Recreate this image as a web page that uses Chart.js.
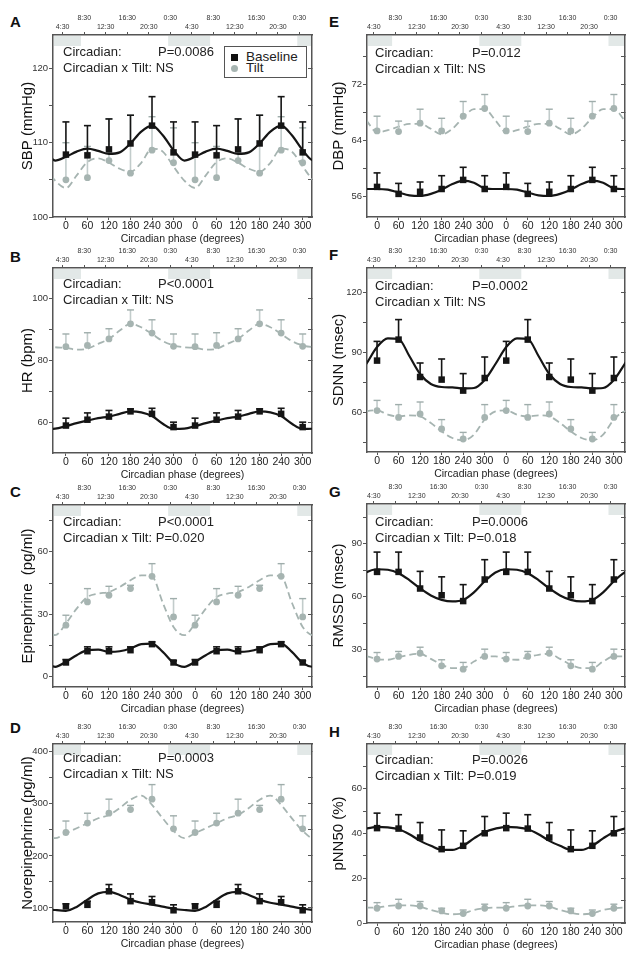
<!DOCTYPE html>
<html>
<head>
<meta charset="utf-8">
<script src="https://cdn.jsdelivr.net/npm/chart.js@4.4.0/dist/chart.umd.min.js"></script>
<style>
  body { margin: 0; background: #fff; width: 644px; height: 959px; position: relative; overflow: hidden;
         font-family: 'Liberation Sans', Arial, sans-serif; color: #222; }
  canvas { position: absolute; }
  .letter { position: absolute; font-weight: bold; font-size: 15px; line-height: 15px; color: #111; }
  .legend { position: absolute; left: 224px; top: 46px; width: 81px; height: 30px; border: 1px solid #555;
            background: #fff; font-size: 13.5px; z-index: 5; }
  .legend span { position: absolute; line-height: 12px; }
  .mk { width: 7px; height: 7px; }
</style>
</head>
<body>
<div class="letter" style="left:10px;top:14px">A</div>
<div class="letter" style="left:10px;top:249px">B</div>
<div class="letter" style="left:10px;top:484px">C</div>
<div class="letter" style="left:10px;top:720px">D</div>
<div class="letter" style="left:329px;top:14px">E</div>
<div class="letter" style="left:329px;top:247px">F</div>
<div class="letter" style="left:329px;top:484px">G</div>
<div class="letter" style="left:329px;top:724px">H</div>
<div class="legend">
  <span class="mk" style="left:6px;top:7px;background:#111"></span>
  <span style="left:21px;top:4px">Baseline</span>
  <span class="mk" style="left:6px;top:18px;background:#a6b4b1;border-radius:50%"></span>
  <span style="left:21px;top:15px">Tilt</span>
</div>
<script>
// x positions: circadian phase, double-plotted (two cycles)
const phases = [0, 60, 120, 180, 240, 300, 360, 420, 480, 540, 600, 660];
const phaseLabels = ['0', '60', '120', '180', '240', '300', '0', '60', '120', '180', '240', '300'];
// clock time axis on top
const clockPhases = [-9, 51, 111, 171, 231, 291, 351, 411, 471, 531, 591, 651];
const clockLabels = ['4:30', '8:30', '12:30', '16:30', '20:30', '0:30', '4:30', '8:30', '12:30', '16:30', '20:30', '0:30'];
// shaded sleep bands (phase degrees)
const sleepBands = [[-75, 42], [285, 402], [645, 762]];
// x positions of the fitted curves
const fitPhases = [-60, -30, 0, 30, 60, 90, 120, 150, 180, 210, 240, 270, 300, 330,
                   360, 390, 420, 450, 480, 510, 540, 570, 600, 630, 660, 690, 720];

// A: SBP
const sbpBase = [108.4, 108.3, 109.1, 109.9, 112.3, 108.7, 108.4, 108.3, 109.1, 109.9, 112.3, 108.7];
const sbpBaseErr = [112.8, 112.3, 113.2, 113.7, 116.2, 112.8, 112.8, 112.3, 113.2, 113.7, 116.2, 112.8];
const sbpTilt = [105.0, 105.3, 107.6, 105.9, 109.0, 107.3, 105.0, 105.3, 107.6, 105.9, 109.0, 107.3];
const sbpTiltErr = [110.0, 109.5, 113.2, 113.7, 113.5, 112.0, 110.0, 109.5, 113.2, 113.7, 113.5, 112.0];
const sbpBaseFit = [109.0, 107.6, 108.1, 108.8, 109.2, 108.9, 108.5, 108.7, 109.9, 111.5, 112.3, 111.0, 109.0, 107.6,
                    108.1, 108.8, 109.2, 108.9, 108.5, 108.7, 109.9, 111.5, 112.3, 111.0, 109.0, 107.6, 108.1];
const sbpTiltFit = [106.8, 104.9, 103.9, 105.6, 107.4, 107.9, 107.3, 106.5, 106.1, 107.3, 109.2, 108.8, 106.8, 104.9,
                    103.9, 105.6, 107.4, 107.9, 107.3, 106.5, 106.1, 107.3, 109.2, 108.8, 106.8, 104.9, 103.9];

// B: HR
const hrBase = [58.9, 60.8, 61.8, 63.5, 62.7, 58.4, 58.9, 60.8, 61.8, 63.5, 62.7, 58.4];
const hrBaseErr = [61.3, 63.0, 63.8, 64.3, 64.5, 60.0, 61.3, 63.0, 63.8, 64.3, 64.5, 60.0];
const hrTilt = [84.5, 84.9, 87.0, 91.9, 88.9, 84.6, 84.5, 84.9, 87.0, 91.9, 88.9, 84.6];
const hrTiltErr = [88.6, 89.0, 90.3, 96.4, 93.2, 88.6, 88.6, 89.0, 90.3, 96.4, 93.2, 88.6];
const hrBaseFit = [57.8, 57.9, 58.7, 59.7, 60.5, 61.3, 61.8, 62.7, 63.5, 63.2, 62.0, 59.5, 57.8, 57.9,
                   58.7, 59.7, 60.5, 61.3, 61.8, 62.7, 63.5, 63.2, 62.0, 59.5, 57.8, 57.9, 58.7];
const hrTiltFit = [84.9, 84.3, 84.1, 83.5, 83.8, 85.4, 87.0, 89.7, 91.9, 90.8, 88.6, 86.3, 84.9, 84.3,
                   84.1, 83.5, 83.8, 85.4, 87.0, 89.7, 91.9, 90.8, 88.6, 86.3, 84.9, 84.3, 84.1];

// C: Epinephrine
const epiBase = [6.8, 12.2, 12.2, 12.7, 15.6, 6.8, 6.8, 12.2, 12.2, 12.7, 15.6, 6.8];
const epiBaseErr = [8.2, 14.3, 14.3, 14.3, 16.7, 7.6, 8.2, 14.3, 14.3, 14.3, 16.7, 7.6];
const epiTilt = [24.7, 35.9, 39.1, 42.3, 48.2, 28.7, 24.7, 35.9, 39.1, 42.3, 48.2, 28.7];
const epiTiltErr = [29.5, 42.3, 43.4, 43.9, 54.3, 37.5, 29.5, 42.3, 43.4, 43.9, 54.3, 37.5];
const epiBaseFit = [6.6, 4.7, 7.1, 10.3, 12.7, 13.0, 11.9, 12.2, 13.5, 15.6, 15.9, 11.9, 6.6, 4.7,
                    7.1, 10.3, 12.7, 13.0, 11.9, 12.2, 13.5, 15.6, 15.9, 11.9, 6.6, 4.7, 7.1];
const epiTiltFit = [23.9, 19.9, 25.5, 32.7, 38.3, 39.9, 40.7, 43.1, 46.3, 48.7, 48.2, 35.5, 23.9, 19.9,
                    25.5, 32.7, 38.3, 39.9, 40.7, 43.1, 46.3, 48.7, 48.2, 35.5, 23.9, 19.9, 25.5];

// D: Norepinephrine
const neBase = [103, 106, 132, 113, 111, 95.5, 103, 106, 132, 113, 111, 95.5];
const neBaseErr = [108, 113, 145, 127, 122, 106, 108, 113, 145, 127, 122, 106];
const neTilt = [245, 263, 282, 289, 309, 252, 245, 263, 282, 289, 309, 252];
const neTiltErr = [267, 282, 309, 297, 337, 277, 267, 282, 309, 297, 337, 277];
const neBaseFit = [98.5, 96, 94.5, 102, 116, 128, 131, 125, 116, 110, 106.5, 102.5, 98.5, 96,
                   94.5, 102, 116, 128, 131, 125, 116, 110, 106.5, 102.5, 98.5, 96, 94.5];
const neTiltFit = [248, 234, 243.6, 253.2, 262.7, 272.3, 278.7, 292, 308, 316, 298, 272, 248, 234,
                   243.6, 253.2, 262.7, 272.3, 278.7, 292, 308, 316, 298, 272, 248, 234, 243.6];

// E: DBP
const dbpBase = [57.3, 56.3, 56.6, 57.0, 58.3, 57.0, 57.3, 56.3, 56.6, 57.0, 58.3, 57.0];
const dbpBaseErr = [59.3, 57.8, 58.0, 58.9, 60.1, 58.9, 59.3, 57.8, 58.0, 58.9, 60.1, 58.9];
const dbpTilt = [65.3, 65.2, 66.4, 65.3, 67.4, 68.5, 65.3, 65.2, 66.4, 65.3, 67.4, 68.5];
const dbpTiltErr = [67.4, 66.7, 68.4, 67.1, 69.5, 70.5, 67.4, 66.7, 68.4, 67.1, 69.5, 70.5];
const dbpBaseFit = [57.1, 57.0, 57.0, 56.9, 56.5, 56.1, 56.0, 56.3, 56.9, 57.7, 58.2, 57.9, 57.1, 57.0,
                    57.0, 56.9, 56.5, 56.1, 56.0, 56.3, 56.9, 57.7, 58.2, 57.9, 57.1, 57.0, 57.0];
const dbpTiltFit = [68.4, 66.8, 65.1, 65.4, 65.9, 66.3, 66.3, 65.6, 64.8, 65.6, 67.2, 68.4, 68.4, 66.8,
                    65.1, 65.4, 65.9, 66.3, 66.3, 65.6, 64.8, 65.6, 67.2, 68.4, 68.4, 66.8, 65.1];

// F: SDNN
const sdnnBase = [85.7, 96.2, 77.5, 76.2, 70.7, 77.0, 85.7, 96.2, 77.5, 76.2, 70.7, 77.0];
const sdnnBaseErr = [95.3, 106.2, 84.5, 86.5, 79.2, 87.5, 95.3, 106.2, 84.5, 86.5, 79.2, 87.5];
const sdnnTilt = [60.7, 57.3, 59.0, 51.5, 46.5, 57.3, 60.7, 57.3, 59.0, 51.5, 46.5, 57.3];
const sdnnTiltErr = [65.8, 63.7, 65.0, 56.2, 49.8, 63.7, 65.8, 63.7, 65.0, 56.2, 49.8, 63.7];
const sdnnBaseFit = [76.0, 84.0, 92.5, 96.8, 96.5, 88.0, 79.0, 74.0, 72.5, 72.3, 71.8, 72.0, 76.0, 84.0,
                     92.5, 96.8, 96.5, 88.0, 79.0, 74.0, 72.5, 72.3, 71.8, 72.0, 76.0, 84.0, 92.5];
const sdnnTiltFit = [56.2, 60.3, 60.8, 58.7, 57.8, 58.3, 57.8, 54.5, 50.3, 47.0, 45.8, 48.7, 56.2, 60.3,
                     60.8, 58.7, 57.8, 58.3, 57.8, 54.5, 50.3, 47.0, 45.8, 48.7, 56.2, 60.3, 60.8];

// G: RMSSD
const rmssdBase = [74.1, 74.1, 64.7, 60.9, 57.6, 69.8, 74.1, 74.1, 64.7, 60.9, 57.6, 69.8];
const rmssdBaseErr = [85.3, 85.3, 74.4, 71.3, 66.9, 81.0, 85.3, 85.3, 74.4, 71.3, 66.9, 81.0];
const rmssdTilt = [24.8, 26.3, 28.1, 21.0, 19.1, 26.3, 24.8, 26.3, 28.1, 21.0, 19.1, 26.3];
const rmssdTiltErr = [28.5, 29.1, 31.5, 24.4, 22.9, 30.4, 28.5, 29.1, 31.5, 24.4, 22.9, 30.4];
const rmssdBaseFit = [68.8, 73.8, 75.6, 75.3, 73.4, 69.5, 64.8, 60.8, 58.3, 57.4, 58.2, 62.5, 68.8, 73.8,
                      75.6, 75.3, 73.4, 69.5, 64.8, 60.8, 58.3, 57.4, 58.2, 62.5, 68.8, 73.8, 75.6];
const rmssdTiltFit = [26.3, 26.3, 24.8, 24.4, 25.9, 27.2, 27.8, 24.9, 21.6, 19.7, 19.7, 23.4, 26.3, 26.3,
                      24.8, 24.4, 25.9, 27.2, 27.8, 24.9, 21.6, 19.7, 19.7, 23.4, 26.3, 26.3, 24.8];

// H: pNN50
const pnnBase = [42.4, 42.2, 38.2, 33.0, 34.5, 40.1, 42.4, 42.2, 38.2, 33.0, 34.5, 40.1];
const pnnBaseErr = [49.1, 48.4, 44.9, 41.6, 41.2, 47.6, 49.1, 48.4, 44.9, 41.6, 41.2, 47.6];
const pnnTilt = [6.6, 7.6, 7.6, 5.4, 4.2, 6.6, 6.6, 7.6, 7.6, 5.4, 4.2, 6.6];
const pnnTiltErr = [9.1, 10.6, 9.6, 6.6, 5.8, 8.4, 9.1, 10.6, 9.6, 6.6, 5.8, 8.4];
const pnnBaseFit = [40.7, 42.2, 43.0, 42.7, 41.9, 39.7, 36.7, 34.5, 32.7, 32.7, 34.5, 37.8, 40.7, 42.2,
                    43.0, 42.7, 41.9, 39.7, 36.7, 34.5, 32.7, 32.7, 34.5, 37.8, 40.7, 42.2, 43.0];
const pnnTiltFit = [6.6, 6.9, 6.9, 7.6, 7.9, 7.9, 7.3, 5.8, 4.6, 3.9, 4.3, 5.8, 6.6, 6.9,
                    6.9, 7.6, 7.9, 7.9, 7.3, 5.8, 4.6, 3.9, 4.3, 5.8, 6.6, 6.9, 6.9];

const BLACK = '#151515';
const GRAY = '#a6b4b1';
const GRAY_BAR = '#c2cccb';
const AXIS = '#555';
const FONT = "'Liberation Sans', Arial, sans-serif";

// layout (plot box in page px: top, bottom) and per-panel text
const panels = [
  { col: 0, box: [35, 217], title: 'SBP (mmHg)', y: [100, 124.5], yTicks: [100, 105, 110, 115, 120], major: 10,
    notes: ['P=0.0086', 'NS'], noteY: 17,
    base: sbpBase, baseErr: sbpBaseErr, tilt: sbpTilt, tiltErr: sbpTiltErr, baseFit: sbpBaseFit, tiltFit: sbpTiltFit },
  { col: 0, box: [268, 453], title: 'HR (bpm)', y: [50, 110], yTicks: [60, 70, 80, 90, 100], major: 20,
    notes: ['P<0.0001', 'NS'], noteY: 16,
    base: hrBase, baseErr: hrBaseErr, tilt: hrTilt, tiltErr: hrTiltErr, baseFit: hrBaseFit, tiltFit: hrTiltFit },
  { col: 0, box: [505, 687], title: 'Epinephrine  (pg/ml)', y: [-5, 82.5], yTicks: [0, 15, 30, 45, 60, 75], major: 30,
    notes: ['P<0.0001', 'P=0.020'], noteY: 17,
    base: epiBase, baseErr: epiBaseErr, tilt: epiTilt, tiltErr: epiTiltErr, baseFit: epiBaseFit, tiltFit: epiTiltFit },
  { col: 0, box: [744, 922], title: 'Norepinephrine (pg/ml)', y: [73, 415], yTicks: [100, 150, 200, 250, 300, 350, 400], major: 100,
    notes: ['P=0.0003', 'NS'], noteY: 14,
    base: neBase, baseErr: neBaseErr, tilt: neTilt, tiltErr: neTiltErr, baseFit: neBaseFit, tiltFit: neTiltFit },
  { col: 1, box: [35, 217], title: 'DBP (mmHg)', y: [53, 79], yTicks: [56, 60, 64, 68, 72, 76], major: 8,
    notes: ['P=0.012', 'NS'], noteY: 18,
    base: dbpBase, baseErr: dbpBaseErr, tilt: dbpTilt, tiltErr: dbpTiltErr, baseFit: dbpBaseFit, tiltFit: dbpTiltFit },
  { col: 1, box: [268, 452], title: 'SDNN (msec)', y: [40, 132], yTicks: [45, 60, 75, 90, 105, 120], major: 30,
    notes: ['P=0.0002', 'NS'], noteY: 18,
    base: sdnnBase, baseErr: sdnnBaseErr, tilt: sdnnTilt, tiltErr: sdnnTiltErr, baseFit: sdnnBaseFit, tiltFit: sdnnTiltFit },
  { col: 1, box: [504, 687], title: 'RMSSD (msec)', y: [9, 112.5], yTicks: [15, 30, 45, 60, 75, 90, 105], major: 30,
    notes: ['P=0.0006', 'P=0.018'], noteY: 18,
    base: rmssdBase, baseErr: rmssdBaseErr, tilt: rmssdTilt, tiltErr: rmssdTiltErr, baseFit: rmssdBaseFit, tiltFit: rmssdTiltFit },
  { col: 1, box: [744, 923], title: 'pNN50 (%)', y: [0, 80], yTicks: [0, 10, 20, 30, 40, 50, 60, 70], major: 20,
    notes: ['P=0.0026', 'P=0.019'], noteY: 16,
    base: pnnBase, baseErr: pnnBaseErr, tilt: pnnTilt, tiltErr: pnnTiltErr, baseFit: pnnBaseFit, tiltFit: pnnTiltFit }
];

function points(ys) {
  return phases.map((x, i) => ({ x: x, y: ys[i] }));
}

function errBars(ys, tops) {
  const out = [];
  phases.forEach((x, i) => {
    out.push({ x: x, y: ys[i] }, { x: x, y: tops[i] }, { x: x, y: null });
  });
  return out;
}

const sleepPlugin = {
  id: 'sleep',
  beforeDatasetsDraw(chart) {
    const { ctx, chartArea } = chart;
    const xs = chart.scales.x;
    ctx.save();
    ctx.fillStyle = '#e2e8e7';
    sleepBands.forEach(b => {
      const x1 = Math.max(xs.getPixelForValue(b[0]), chartArea.left + 1);
      const x2 = Math.min(xs.getPixelForValue(b[1]), chartArea.right - 1);
      if (x2 > x1) ctx.fillRect(x1, chartArea.top + 1, x2 - x1, 10);
    });
    ctx.restore();
  }
};

const notesPlugin = {
  id: 'notes',
  afterDatasetsDraw(chart, args, opts) {
    const { ctx, chartArea } = chart;
    const x0 = chartArea.left + opts.dx;
    const y0 = chartArea.top + opts.dy;
    ctx.save();
    ctx.font = '13px ' + FONT;
    ctx.fillStyle = '#222';
    ctx.textBaseline = 'middle';
    ctx.fillText('Circadian:', x0, y0);
    ctx.fillText(opts.p, chartArea.left + 105, y0);
    ctx.fillText('Circadian x Tilt: ' + opts.tilt, x0, y0 + 16);
    ctx.restore();
  }
};

function makePanel(p) {
  const T = 35, B = 30;
  const L = p.col === 0 ? 53 : 45;
  const R = p.col === 0 ? 10 : 19;
  const xr = p.col === 0 ? [-36, 686] : [-28, 691];
  const cv = document.createElement('canvas');
  cv.width = 322;
  cv.height = p.box[1] - p.box[0] + T + B;
  cv.style.left = (p.col === 0 ? 0 : 322) + 'px';
  cv.style.top = (p.box[0] - T) + 'px';
  document.body.appendChild(cv);

  const border = { color: AXIS, width: 1.5 };
  const tickFont = { family: FONT, size: 10.5 };

  new Chart(cv.getContext('2d'), {
    type: 'line',
    data: {
      datasets: [
        { data: points(p.base), showLine: false, pointStyle: 'rect', pointRadius: 4.6,
          pointBackgroundColor: BLACK, pointBorderWidth: 0 },
        { data: errBars(p.base, p.baseErr), borderColor: BLACK, borderWidth: 1.6, spanGaps: false, tension: 0,
          pointStyle: 'line', pointBorderColor: BLACK, pointBorderWidth: 1.6,
          pointRadius: c => (c.dataIndex % 3 === 1 ? 3.5 : 0) },
        { data: fitPhases.map((x, i) => ({ x: x, y: p.baseFit[i] })), borderColor: BLACK, borderWidth: 2.2,
          pointRadius: 0, cubicInterpolationMode: 'monotone' },
        { data: points(p.tilt), showLine: false, pointStyle: 'circle', pointRadius: 3.4,
          pointBackgroundColor: GRAY, pointBorderWidth: 0 },
        { data: errBars(p.tilt, p.tiltErr), borderColor: GRAY_BAR, borderWidth: 1.6, spanGaps: false, tension: 0,
          pointStyle: 'line', pointBorderColor: '#9fadab', pointBorderWidth: 1.4,
          pointRadius: c => (c.dataIndex % 3 === 1 ? 3.5 : 0) },
        { data: fitPhases.map((x, i) => ({ x: x, y: p.tiltFit[i] })), borderColor: GRAY, borderWidth: 1.8,
          borderDash: [7, 4], pointRadius: 0, cubicInterpolationMode: 'monotone' }
      ]
    },
    options: {
      responsive: false,
      animation: false,
      events: [],
      layout: { padding: 0 },
      plugins: {
        legend: { display: false },
        tooltip: { enabled: false },
        notes: { dx: p.col === 0 ? 10 : 8, dy: p.noteY, p: p.notes[0], tilt: p.notes[1] }
      },
      scales: {
        x: {
          type: 'linear', position: 'bottom', min: xr[0], max: xr[1],
          afterBuildTicks: s => { s.ticks = phases.map(v => ({ value: v })); },
          afterFit: s => { s.height = B; },
          ticks: { autoSkip: false, maxRotation: 0, padding: 0, color: '#222', font: tickFont,
                   callback: (v, i) => phaseLabels[i] },
          grid: { drawOnChartArea: false, tickLength: 3, color: AXIS, tickWidth: 1 },
          border: border,
          title: { display: true, text: 'Circadian phase (degrees)', color: '#222',
                   font: { family: FONT, size: 10.5 }, padding: { top: 0, bottom: 2 } }
        },
        x2: {
          type: 'linear', position: 'top', min: xr[0], max: xr[1],
          afterBuildTicks: s => { s.ticks = clockPhases.map(v => ({ value: v })); },
          afterFit: s => { s.height = T; },
          ticks: { autoSkip: false, maxRotation: 0, padding: 0, color: '#333',
                   font: { family: FONT, size: 7, lineHeight: 1.3 },
                   callback: (v, i) => (i % 2 === 0 ? ['', clockLabels[i]] : [clockLabels[i], '']) },
          grid: { drawOnChartArea: false, tickLength: 3, color: AXIS },
          border: border
        },
        y: {
          type: 'linear', position: 'left', min: p.y[0], max: p.y[1],
          afterBuildTicks: s => { s.ticks = p.yTicks.map(v => ({ value: v })); },
          afterFit: s => { s.width = L; },
          ticks: { padding: 1, color: '#333', font: { family: FONT, size: 9.5 },
                   callback: v => (v % p.major === 0 ? String(v) : '') },
          grid: { drawOnChartArea: false, tickLength: 4, color: AXIS },
          border: border,
          title: { display: true, text: p.title, color: '#111', font: { family: FONT, size: 15 },
                   padding: { top: p.col === 0 ? 19 : 8, bottom: 0 } }
        },
        y2: {
          type: 'linear', position: 'right', min: p.y[0], max: p.y[1],
          afterBuildTicks: s => { s.ticks = p.yTicks.map(v => ({ value: v })); },
          afterFit: s => { s.width = R; },
          ticks: { display: false },
          grid: { drawOnChartArea: false, tickLength: -4, color: AXIS },
          border: border
        }
      }
    },
    plugins: [sleepPlugin, notesPlugin]
  });
}

panels.forEach(makePanel);
</script>
</body>
</html>
